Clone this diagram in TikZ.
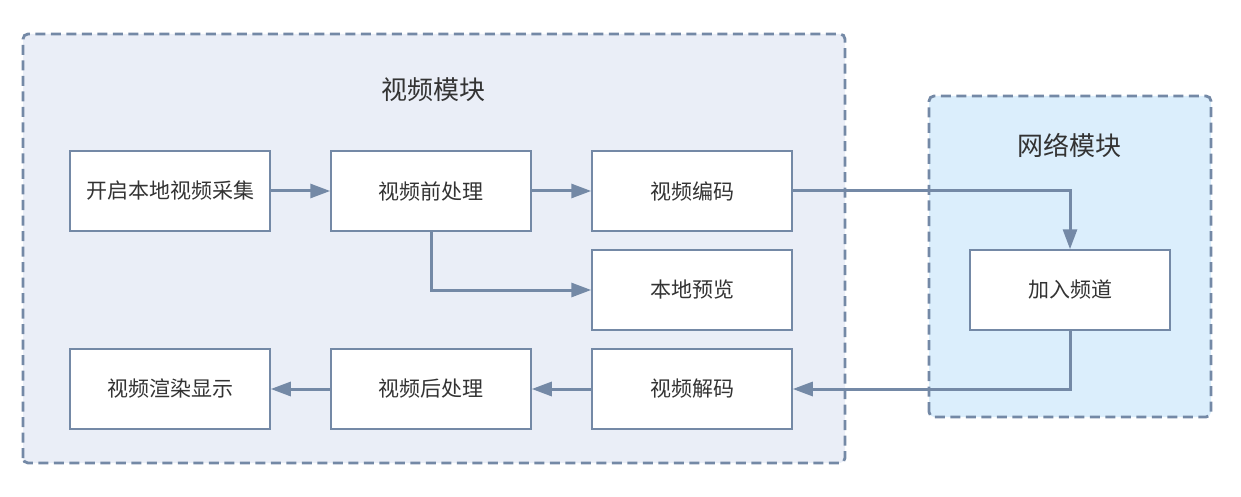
\documentclass[tikz,border=0pt]{standalone}
\usepackage{fontspec}
\setmainfont{Noto Sans CJK SC}
\usetikzlibrary{arrows.meta}
\definecolor{edgegray}{HTML}{7489A6}
\definecolor{videofill}{HTML}{EAEEF7}
\definecolor{netfill}{HTML}{DBEEFC}
\definecolor{txtgray}{HTML}{333333}
\begin{document}
\begin{tikzpicture}[x=1pt,y=1pt,
	box/.style={draw=edgegray,line width=1.5pt,fill=white,minimum width=200pt,minimum height=80pt,
		text=txtgray,font=\fontsize{21}{24}\selectfont},
	module/.style={draw=edgegray,line width=2.8pt,dash pattern=on 10pt off 5.5pt,rounded corners=5pt},
	title/.style={text=txtgray,font=\fontsize{26}{30}\selectfont},
	flow/.style={draw=edgegray,line width=3pt,-{Triangle[length=20pt,width=14pt]}}]
	\useasboundingbox (0,0) rectangle (1241,496);
	% modules
	\draw[module,fill=videofill] (23,33) rectangle (845,462);
	\draw[module,fill=netfill] (929,79) rectangle (1211,400);
	\node[title] (videotitle) at (433,406) {视频模块};
	\node[title] (nettitle) at (1069,351) {网络模块};
	% steps
	\node[box] (capture) at (170,305) {开启本地视频采集};
	\node[box] (pre) at (431,305) {视频前处理};
	\node[box] (encode) at (692,305) {视频编码};
	\node[box] (preview) at (692,206) {本地预览};
	\node[box] (render) at (170,107) {视频渲染显示};
	\node[box] (post) at (431,107) {视频后处理};
	\node[box] (decode) at (692,107) {视频解码};
	\node[box] (join) at (1070,206) {加入频道};
	% arrows
	\draw[flow] (capture) -- (pre);
	\draw[flow] (pre) -- (encode);
	\draw[flow] (pre.south) |- (preview.west);
	\draw[flow] (encode.east) -| (join.north);
	\draw[flow] (join.south) |- (decode.east);
	\draw[flow] (decode) -- (post);
	\draw[flow] (post) -- (render);
\end{tikzpicture}
\end{document}
